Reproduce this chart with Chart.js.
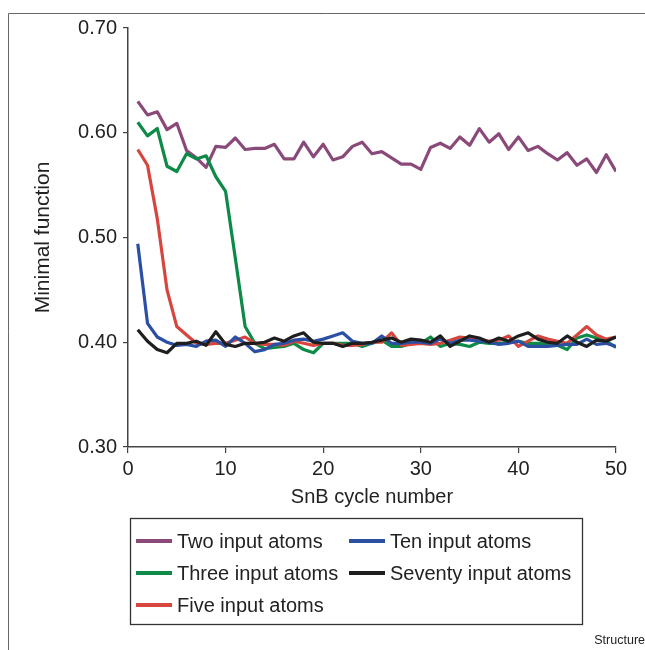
<!DOCTYPE html>
<html>
<head>
<meta charset="utf-8">
<script src="https://cdn.jsdelivr.net/npm/chart.js@4.4.1/dist/chart.umd.min.js"></script>
<style>
  html, body { margin: 0; padding: 0; background: #fff; }
  #wrap { position: relative; width: 645px; height: 650px; }
  canvas { display: block; }
</style>
</head>
<body>
<div id="wrap"><canvas id="c" width="645" height="650"></canvas></div>
<script>
// ---- data ----
const cycles = [1,2,3,4,5,6,7,8,9,10,11,12,13,14,15,16,17,18,19,20,21,22,23,24,25,26,27,28,29,30,31,32,33,34,35,36,37,38,39,40,41,42,43,44,45,46,47,48,49,50];

const twoAtoms = [0.630,0.617,0.620,0.603,0.609,0.583,0.576,0.567,0.587,0.586,0.595,0.584,0.585,0.585,0.589,0.575,0.575,0.591,0.577,0.589,0.574,0.577,0.587,0.591,0.580,0.582,0.576,0.570,0.570,0.565,0.586,0.590,0.585,0.596,0.588,0.604,0.591,0.599,0.584,0.596,0.583,0.587,0.580,0.574,0.581,0.569,0.575,0.562,0.579,0.563];

const threeAtoms = [0.610,0.597,0.604,0.568,0.563,0.580,0.575,0.578,0.558,0.544,0.480,0.415,0.399,0.394,0.395,0.396,0.399,0.393,0.390,0.399,0.399,0.399,0.399,0.396,0.399,0.402,0.396,0.396,0.399,0.399,0.405,0.396,0.399,0.398,0.396,0.400,0.399,0.399,0.400,0.401,0.399,0.399,0.398,0.397,0.393,0.404,0.407,0.404,0.401,0.395];

const fiveAtoms = [0.584,0.569,0.518,0.450,0.415,0.407,0.399,0.398,0.399,0.399,0.402,0.405,0.399,0.398,0.398,0.397,0.401,0.399,0.397,0.399,0.399,0.397,0.397,0.398,0.400,0.400,0.409,0.397,0.398,0.399,0.398,0.399,0.402,0.405,0.404,0.403,0.401,0.402,0.406,0.396,0.401,0.406,0.403,0.401,0.399,0.407,0.415,0.407,0.403,0.405];

const tenAtoms = [0.494,0.418,0.405,0.400,0.397,0.398,0.396,0.401,0.402,0.396,0.405,0.399,0.391,0.393,0.398,0.399,0.402,0.403,0.401,0.403,0.406,0.409,0.401,0.399,0.399,0.406,0.399,0.399,0.400,0.400,0.399,0.403,0.399,0.402,0.402,0.401,0.400,0.398,0.399,0.401,0.396,0.396,0.396,0.397,0.398,0.398,0.403,0.398,0.399,0.396];

const seventyAtoms = [0.412,0.401,0.393,0.390,0.399,0.399,0.401,0.397,0.410,0.398,0.396,0.399,0.399,0.400,0.404,0.401,0.406,0.409,0.400,0.399,0.399,0.396,0.399,0.399,0.400,0.402,0.404,0.400,0.403,0.402,0.400,0.406,0.396,0.401,0.406,0.404,0.400,0.404,0.401,0.406,0.409,0.403,0.400,0.399,0.406,0.400,0.396,0.402,0.401,0.405];

const seriesLabels = ['Two input atoms', 'Three input atoms', 'Five input atoms', 'Ten input atoms', 'Seventy input atoms'];
const seriesColors = ['#8a4a79', '#0d8a47', '#d7463e', '#2b4fa3', '#1e1e1e'];
const xTickValues = [0, 10, 20, 30, 40, 50];
const yTickValues = [0.30, 0.40, 0.50, 0.60, 0.70];
const xTitle = 'SnB cycle number';
const yTitle = 'Minimal function';
const sourceLabel = 'Structure';

// ---- build ----
const FONT = "'Liberation Sans', Arial, Helvetica, sans-serif";
const allSeries = [twoAtoms, threeAtoms, fiveAtoms, tenAtoms, seventyAtoms];
const drawOrder = [5, 4, 3, 2, 1]; // higher number drawn first (below)

const datasets = allSeries.map((vals, i) => ({
  label: seriesLabels[i],
  data: cycles.map((c, k) => ({ x: c, y: vals[k] })),
  borderColor: seriesColors[i],
  backgroundColor: seriesColors[i],
  borderWidth: 3.2,
  pointRadius: 0,
  tension: 0,
  fill: false,
  order: drawOrder[i],
  borderJoinStyle: 'round'
}));

// legend layout: [datasetIndex, column, row]
const legendSlots = [[0,0,0],[3,1,0],[1,0,1],[4,1,1],[2,0,2]];

const decorPlugin = {
  id: 'decor',
  beforeDraw(chart) {
    const ctx = chart.ctx;
    ctx.save();
    ctx.fillStyle = '#fff';
    ctx.fillRect(0, 0, chart.width, chart.height);
    ctx.strokeStyle = '#666';
    ctx.lineWidth = 1;
    ctx.beginPath();
    ctx.moveTo(8.5, 650);
    ctx.lineTo(8.5, 13.5);
    ctx.lineTo(645, 13.5);
    ctx.stroke();
    ctx.restore();
  },
  afterDraw(chart) {
    const ctx = chart.ctx;
    ctx.save();
    // legend box
    ctx.strokeStyle = '#333';
    ctx.lineWidth = 1.3;
    ctx.strokeRect(130.5, 518.5, 452, 106);
    const colX = [136, 349];
    const rowY = [541, 573, 605];
    ctx.font = '20px ' + FONT;
    ctx.textBaseline = 'middle';
    ctx.textAlign = 'left';
    legendSlots.forEach(([di, col, row]) => {
      const ds = chart.data.datasets[di];
      const x = colX[col], y = rowY[row];
      ctx.strokeStyle = ds.borderColor;
      ctx.lineWidth = 4;
      ctx.beginPath();
      ctx.moveTo(x, y);
      ctx.lineTo(x + 36, y);
      ctx.stroke();
      ctx.fillStyle = '#222';
      ctx.fillText(ds.label, x + 41, y + 1);
    });
    // source label
    ctx.font = '12.5px ' + FONT;
    ctx.textAlign = 'right';
    ctx.fillStyle = '#222';
    ctx.fillText(sourceLabel, 645, 641);
    ctx.restore();
  }
};

new Chart(document.getElementById('c'), {
  type: 'line',
  data: { datasets },
  plugins: [decorPlugin],
  options: {
    responsive: false,
    animation: false,
    devicePixelRatio: 1,
    layout: { padding: { left: 0, top: 28, right: 29, bottom: 137 } },
    plugins: { legend: { display: false }, tooltip: { enabled: false } },
    scales: {
      x: {
        type: 'linear',
        min: 0, max: 50,
        afterBuildTicks: s => { s.ticks = xTickValues.map(v => ({ value: v })); },
        afterFit: s => { s.height = 66; },
        grid: { display: true, drawOnChartArea: false, drawTicks: true, tickLength: 6, color: '#444', lineWidth: 1.2 },
        border: { display: true, color: '#444', width: 1.5 },
        ticks: { font: { family: FONT, size: 20 }, color: '#222', padding: 4, maxRotation: 0, autoSkip: false,
                 callback: v => String(v) },
        title: { display: true, text: xTitle, font: { family: FONT, size: 20 }, color: '#222', padding: { top: 0, bottom: 4 } }
      },
      y: {
        type: 'linear',
        min: 0.3, max: 0.7,
        afterBuildTicks: s => { s.ticks = yTickValues.map(v => ({ value: v })); },
        afterFit: s => { s.width = 128; },
        grid: { display: true, drawOnChartArea: false, drawTicks: true, tickLength: 5, color: '#444', lineWidth: 1.2 },
        border: { display: true, color: '#444', width: 1.5 },
        ticks: { font: { family: FONT, size: 20 }, color: '#222', padding: 6, autoSkip: false,
                 callback: v => Number(v).toFixed(2) },
        title: { display: true, text: yTitle, font: { family: FONT, size: 21 }, color: '#222', padding: { top: 31, bottom: 0 } }
      }
    }
  }
});
</script>
</body>
</html>
